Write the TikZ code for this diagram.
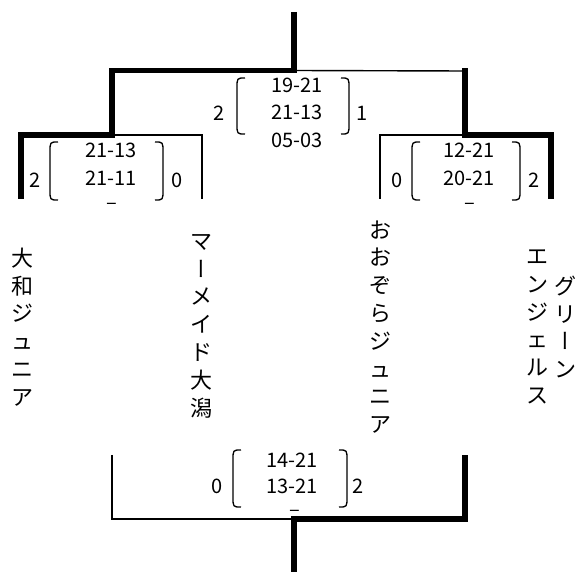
\documentclass[tikz,border=0pt]{standalone}
\usepackage{fontspec}
\setmainfont{Noto Sans CJK JP}
\newfontfamily\vfont[RawFeature=+vert]{Noto Sans CJK JP}
\newcommand{\vbar}{{\vfont ー}}
\begin{document}
\begin{tikzpicture}[x=1pt,y=-1pt,
  winline/.style={line width=5.5pt,line join=miter,line cap=butt},
  loseline/.style={line width=1.4pt,line join=miter,line cap=butt},
  paren/.style={line width=1.3pt},
  score/.style={font=\fontsize{20}{24}\selectfont,inner sep=0pt},
  teamname/.style={font=\fontsize{22}{27.8}\selectfont,align=center,inner sep=0pt}]
\useasboundingbox (0,0) rectangle (582,572);
% coordinates of the bracket
\coordinate (top) at (294,12);
\coordinate (fj) at (294,70.5);
\coordinate (fl) at (112,70.5);
\coordinate (fr) at (465,71);
\coordinate (frt) at (465,68.5);
\coordinate (lj) at (112,135);
\coordinate (ll) at (21,135);
\coordinate (llb) at (21,199);
\coordinate (lr) at (202,135);
\coordinate (lrb) at (202,199);
\coordinate (rj) at (465,135);
\coordinate (rl) at (380,135);
\coordinate (rlb) at (380,199);
\coordinate (rr) at (551,135);
\coordinate (rrb) at (551,199);
\coordinate (bl) at (112,455);
\coordinate (blj) at (112,519);
\coordinate (bj) at (294,519);
\coordinate (brj) at (465,519);
\coordinate (br) at (465,455);
\coordinate (bjt) at (294,516);
\coordinate (bot) at (294,572);
% lines
\draw[loseline] (fj) -- (fr);
\draw[winline] (top) -- (fj) -- (fl) -- (lj) -- (ll) -- (llb);
\draw[loseline] (lj) -- (lr) -- (lrb);
\draw[loseline] (rj) -- (rl) -- (rlb);
\draw[winline] (frt) -- (rj) -- (rr) -- (rrb);
\draw[loseline] (bl) -- (blj) -- (bj);
\draw[winline] (bj) -- (brj) -- (br);
\draw[winline] (bjt) -- (bot);
% parentheses
\newcommand{\lparen}[3]{\draw[paren] (#1+8,#2) .. controls (#1,#2) .. (#1,#2+10) -- (#1,#3-10) .. controls (#1,#3) .. (#1+8,#3);}
\newcommand{\rparen}[3]{\draw[paren] (#1-8,#2) .. controls (#1,#2) .. (#1,#2+10) -- (#1,#3-10) .. controls (#1,#3) .. (#1-8,#3);}
\lparen{237}{78}{134}
\rparen{349}{78}{134}
\lparen{50}{142}{200}
\rparen{163}{142}{200}
\lparen{412}{142}{200}
\rparen{520}{142}{200}
\lparen{233}{450}{507}
\rparen{347}{450}{507}
% final scores
\node[score] (f1) at (297,85) {19-21};
\node[score] (f2) at (297,112) {21-13};
\node[score] (f3) at (297,140) {05-03};
\node[score] (fw) at (219,113) {2};
\node[score] (fx) at (362,113) {1};
% left semi
\node[score] (l1) at (111,150) {21-13};
\node[score] (l2) at (111,178) {21-11};
\node[score] (l3) at (112,206) {–};
\node[score] (lw) at (35,180) {2};
\node[score] (lx) at (177,180) {0};
% right semi
\node[score] (r1) at (469,150) {12-21};
\node[score] (r2) at (469,178) {20-21};
\node[score] (r3) at (470,206) {–};
\node[score] (rw) at (397,180) {0};
\node[score] (rx) at (534,180) {2};
% bottom match
\node[score] (b1) at (292,460) {14-21};
\node[score] (b2) at (292,486) {13-21};
\node[score] (b3) at (295,513) {–};
\node[score] (bw) at (217,486) {0};
\node[score] (bx) at (358,486) {2};
% team names
\node[teamname] (t1) at (23,327) {大\\和\\ジ\\ュ\\ニ\\ア};
\node[teamname] (t2) at (201,326) {マ\\\vbar\\メ\\イ\\ド\\大\\潟};
\node[teamname] (t3) at (380,327) {お\\お\\ぞ\\ら\\ジ\\ュ\\ニ\\ア};
\node[teamname] (t4a) at (565,327) {グ\\リ\\\vbar\\ン};
\node[teamname] (t4b) at (537,327) {エ\\ン\\ジ\\ェ\\ル\\ス};
\end{tikzpicture}
\end{document}
